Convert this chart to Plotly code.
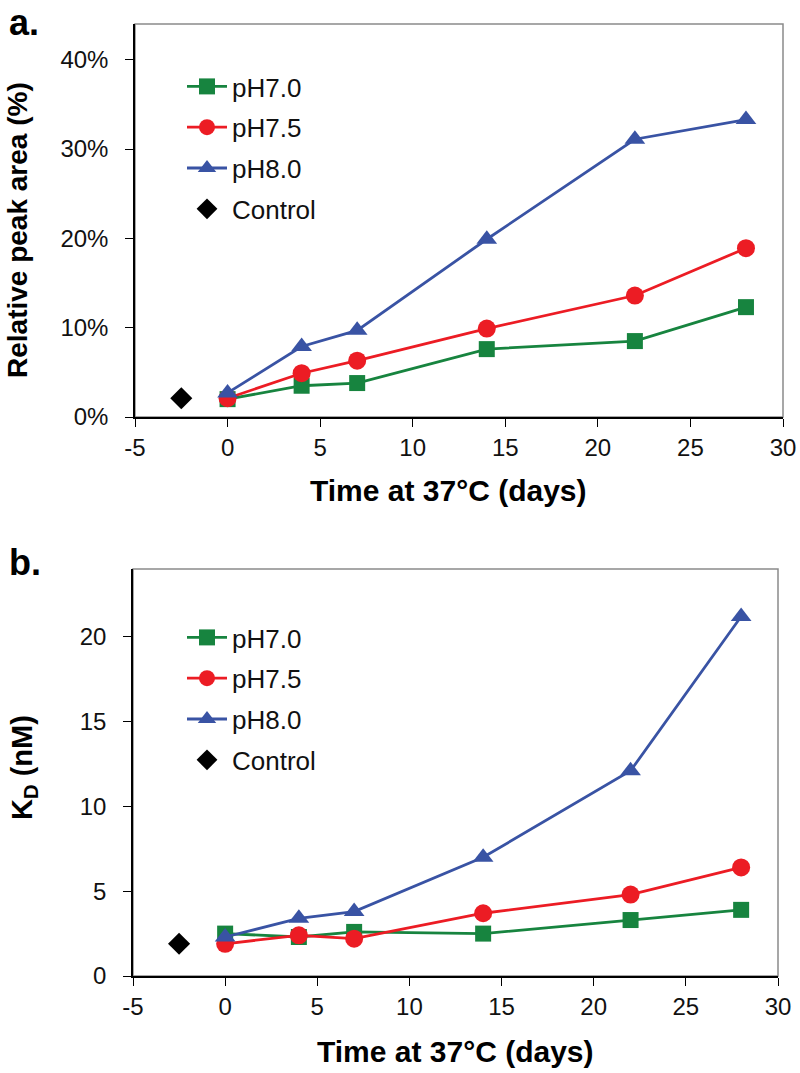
import plotly.graph_objects as go

# Time points (days at 37°C)
days = [0, 4, 7, 14, 22, 28]
control_day = [-2.5]
x_ticks = [-5, 0, 5, 10, 15, 20, 25, 30]
x_tick_labels = ["-5", "0", "5", "10", "15", "20", "25", "30"]

# a. Relative peak area (%)
area_ph70 = [2.0, 3.5, 3.8, 7.6, 8.5, 12.3]
area_ph75 = [2.1, 4.9, 6.3, 9.9, 13.6, 18.9]
area_ph80 = [2.7, 7.9, 9.7, 19.9, 31.1, 33.3]
area_control = [2.1]

# b. KD (nM)
kd_ph70 = [2.5, 2.3, 2.6, 2.5, 3.3, 3.9]
kd_ph75 = [1.9, 2.4, 2.2, 3.7, 4.8, 6.4]
kd_ph80 = [2.3, 3.4, 3.8, 7.0, 12.1, 21.2]
kd_control = [1.9]

GREEN = "#17843f"
RED = "#ec1c24"
BLUE = "#3953a4"
FONT = "Liberation Sans, Arial, sans-serif"
W, H = 800, 1073

series = [
    ("pH7.0", GREEN, "square", 16),
    ("pH7.5", RED, "circle", 18),
    ("pH8.0", BLUE, "triangle-up", 18),
]

fig = go.Figure()

panels = [
    ([area_ph70, area_ph75, area_ph80], area_control, "x", "y", "legend"),
    ([kd_ph70, kd_ph75, kd_ph80], kd_control, "x2", "y2", "legend2"),
]
for values, ctrl, xa, ya, lg in panels:
    for (name, color, symbol, size), vals in zip(series, values):
        fig.add_trace(go.Scatter(
            x=days, y=vals, name=name, mode="lines+markers",
            line=dict(color=color, width=2.8),
            marker=dict(symbol=symbol, size=size, color=color),
            xaxis=xa, yaxis=ya, legend=lg, legendgroup=lg + name,
        ))
    fig.add_trace(go.Scatter(
        x=control_day, y=ctrl, name="Control", mode="markers",
        marker=dict(symbol="diamond", size=17, color="black"),
        xaxis=xa, yaxis=ya, legend=lg, legendgroup=lg + "Control",
    ))

tick_font = dict(family=FONT, size=24, color="#111111")
xcommon = dict(range=[-5, 30], tickmode="array", tickvals=x_ticks, ticktext=x_tick_labels,
               showgrid=False, zeroline=False, automargin=False,
               showline=True, linecolor="black", linewidth=1.5,
               ticks="outside", ticklen=8, tickcolor="black", tickfont=tick_font,
               ticklabelstandoff=0)
ycommon = dict(showgrid=False, zeroline=False, showline=True, linecolor="black",
               linewidth=1.5, ticks="outside", ticklen=8, tickcolor="black",
               tickfont=tick_font, automargin=False, ticklabelstandoff=12)

legend_style = dict(font=dict(family=FONT, size=26, color="#111111"),
                    bgcolor="rgba(0,0,0,0)", tracegroupgap=4, itemwidth=40,
                    xanchor="left", yanchor="top")

fig.update_layout(
    width=W, height=H,
    margin=dict(l=0, r=0, t=0, b=0, autoexpand=False),
    paper_bgcolor="white", plot_bgcolor="white",
    showlegend=True,
    xaxis=dict(domain=[135 / W, 783 / W], anchor="y", **xcommon),
    yaxis=dict(domain=[1 - 417 / H, 1 - 24 / H], anchor="x", range=[0, 44],
               dtick=10, ticksuffix="%", **ycommon),
    xaxis2=dict(domain=[133 / W, 778 / W], anchor="y2", **xcommon),
    yaxis2=dict(domain=[1 - 976 / H, 1 - 569 / H], anchor="x2", range=[0, 24],
                dtick=5, **ycommon),
    legend=dict(x=182 / W, y=1 - 63 / H, **legend_style),
    legend2=dict(x=182 / W, y=1 - 614 / H, **legend_style),
)

# grey frame on top and right like the original
for xd, yd in [("x domain", "y domain"), ("x2 domain", "y2 domain")]:
    fig.add_shape(type="rect", xref=xd, yref=yd, x0=0, x1=1, y0=0, y1=1,
                  line=dict(color="#8a8a8a", width=1.5), layer="below")

# panel letters
for letter, ypx in [("a.", 22), ("b.", 562)]:
    fig.add_annotation(text=f"<b>{letter}</b>", xref="paper", yref="paper",
                       x=7 / W, y=1 - ypx / H, showarrow=False,
                       xanchor="left", yanchor="middle",
                       font=dict(family=FONT, size=36, color="black"))

title_font = dict(family=FONT, size=30, color="black")
for ypx, xc in [(490, 448), (1051, 455)]:
    fig.add_annotation(text="<b>Time at 37°C (days)</b>", xref="paper", yref="paper",
                       x=xc / W, y=1 - ypx / H, showarrow=False,
                       xanchor="center", yanchor="middle", font=title_font)

fig.add_annotation(text="<b>Relative peak area (%)</b>", xref="paper", yref="paper",
                   x=18 / W, y=1 - 230 / H, textangle=-90, showarrow=False,
                   xanchor="center", yanchor="middle",
                   font=dict(family=FONT, size=28, color="black"))
fig.add_annotation(text="<b>K<sub>D</sub> (nM)</b>", xref="paper", yref="paper",
                   x=24 / W, y=1 - 768 / H, textangle=-90, showarrow=False,
                   xanchor="center", yanchor="middle",
                   font=dict(family=FONT, size=29, color="black"))

# the page's default body margin would shift the figure by 8 px
fig.write_html("out.html", config={"displayModeBar": False},
               post_script="document.body.style.margin='0px';")
